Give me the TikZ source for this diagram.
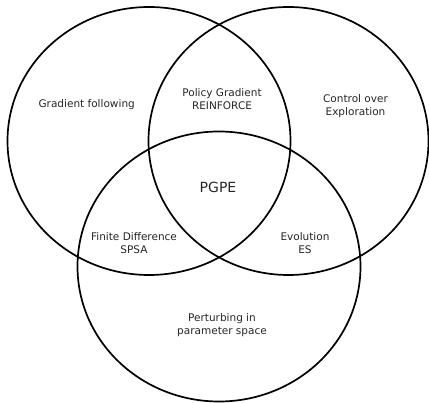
\documentclass[tikz,border=0pt]{standalone}
\usepackage{fontspec}
\setmainfont{DejaVu Sans}
\begin{document}
\begin{tikzpicture}[x=1pt,y=-1pt,
  set/.style={line width=1.7pt,black},
  lbl/.style={align=center,font=\fontsize{10.5}{12.7}\selectfont,text=black!85,inner sep=0pt},
  big/.style={align=center,font=\fontsize{14}{16}\selectfont,text=black!85,inner sep=0pt}]
\useasboundingbox (0,0) rectangle (429,403);
\draw[set] (149,141) ellipse [x radius=141.5, y radius=134];
\draw[set] (288.5,141) ellipse [x radius=140, y radius=134];
\draw[set] (219,266.5) ellipse [x radius=141.5, y radius=135];
\node[lbl] (gf) at (86.7,105) {Gradient following};
\node[lbl] (pg) at (222,99) {Policy Gradient\\REINFORCE};
\node[lbl] (ce) at (355.5,106) {Control over\\Exploration};
\node[big] (pgpe) at (218,187) {PGPE};
\node[lbl] (fd) at (134,243) {Finite Difference\\SPSA};
\node[lbl] (ev) at (305,243) {Evolution\\ES};
\node[lbl] (pp) at (222,325) {Perturbing in\\parameter space};
\end{tikzpicture}
\end{document}
